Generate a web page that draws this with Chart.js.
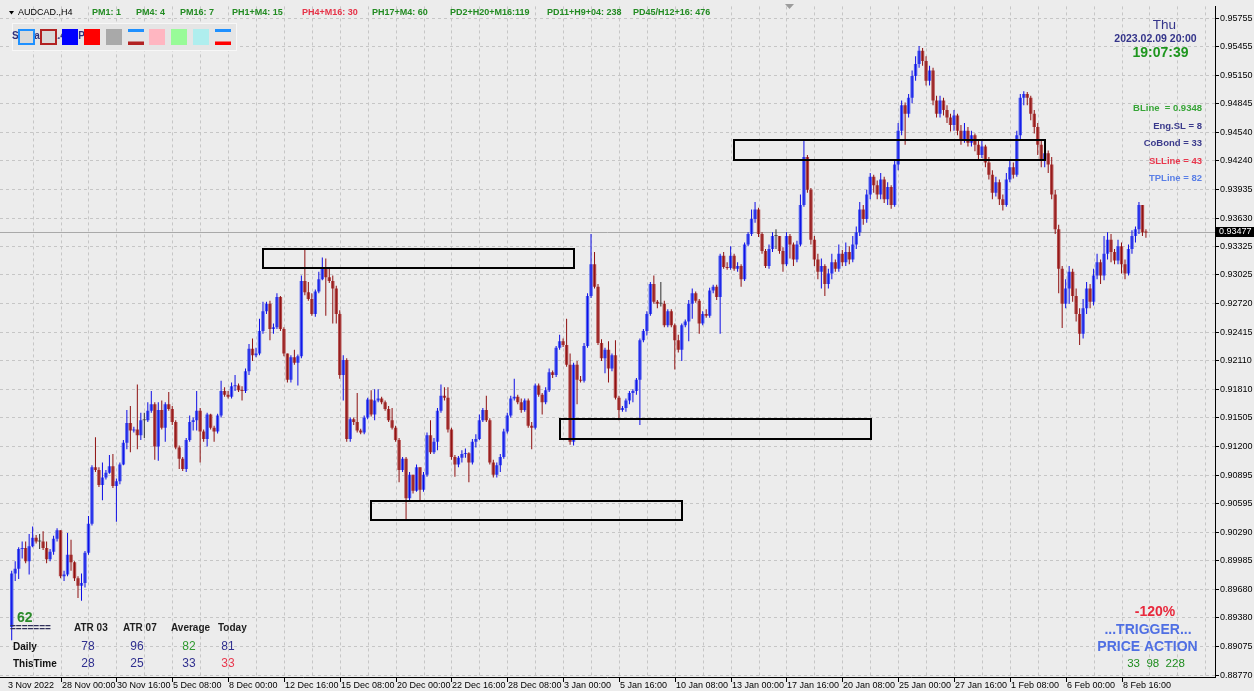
<!DOCTYPE html>
<html><head><meta charset="utf-8">
<script src="https://cdn.jsdelivr.net/npm/chart.js@4.4.1/dist/chart.umd.min.js"></script>
<style>html,body{margin:0;padding:0;background:#ececec;overflow:hidden}canvas{display:block}</style>
</head><body>
<canvas id="c" width="1254" height="691"></canvas>
<script>
// ---- data (AUDCAD H4) ----
const firstOpen = 0.8928;
const close = [
0.8985,0.8990,0.9011,0.9012,0.8998,0.9014,0.9023,0.9019,0.9019,0.9012,
0.9000,0.9008,0.9022,0.9031,0.8982,0.8984,0.9005,0.8997,0.8980,0.8972,
0.8975,0.9007,0.9038,0.9098,0.9095,0.9079,0.9087,0.9092,0.9099,0.9078,
0.9083,0.9101,0.9124,0.9145,0.9137,0.9138,0.9132,0.9148,0.9148,0.9158,
0.9165,0.9120,0.9159,0.9140,0.9165,0.9160,0.9146,0.9119,0.9107,0.9096,
0.9127,0.9146,0.9148,0.9158,0.9136,0.9128,0.9154,0.9140,0.9136,0.9153,
0.9179,0.9175,0.9173,0.9184,0.9185,0.9180,0.9179,0.9200,0.9224,0.9217,
0.9219,0.9243,0.9264,0.9272,0.9245,0.9247,0.9279,0.9245,0.9219,0.9191,
0.9215,0.9209,0.9216,0.9296,0.9284,0.9277,0.9261,0.9285,0.9298,0.9311,
0.9300,0.9296,0.9288,0.9261,0.9196,0.9212,0.9128,0.9149,0.9146,0.9137,
0.9135,0.9151,0.9170,0.9154,0.9169,0.9171,0.9167,0.9160,0.9148,0.9140,
0.9127,0.9095,0.9107,0.9065,0.9090,0.9073,0.9098,0.9074,0.9090,0.9132,
0.9114,0.9125,0.9158,0.9174,0.9172,0.9138,0.9109,0.9101,0.9108,0.9112,
0.9113,0.9103,0.9125,0.9128,0.9148,0.9159,0.9148,0.9103,0.9090,0.9100,
0.9109,0.9136,0.9153,0.9171,0.9173,0.9167,0.9159,0.9169,0.9142,0.9140,
0.9185,0.9175,0.9167,0.9180,0.9199,0.9196,0.9225,0.9232,0.9228,0.9207,
0.9125,0.9207,0.9191,0.9190,0.9227,0.9280,0.9314,0.9290,0.9230,0.9214,
0.9223,0.9203,0.9217,0.9172,0.9159,0.9161,0.9169,0.9177,0.9179,0.9191,
0.9233,0.9243,0.9261,0.9293,0.9274,0.9272,0.9272,0.9249,0.9264,0.9249,
0.9233,0.9223,0.9249,0.9253,0.9272,0.9283,0.9275,0.9251,0.9261,0.9259,
0.9286,0.9290,0.9279,0.9323,0.9311,0.9310,0.9323,0.9309,0.9312,0.9298,
0.9335,0.9346,0.9362,0.9372,0.9346,0.9328,0.9312,0.9330,0.9344,0.9344,
0.9328,0.9314,0.9344,0.9335,0.9319,0.9335,0.9377,0.9428,0.9393,0.9340,
0.9319,0.9306,0.9312,0.9293,0.9304,0.9316,0.9309,0.9325,0.9316,0.9327,
0.9319,0.9335,0.9348,0.9372,0.9362,0.9388,0.9407,0.9398,0.9388,0.9404,
0.9383,0.9396,0.9377,0.9420,0.9456,0.9483,0.9474,0.9491,0.9514,0.9527,
0.9541,0.9530,0.9509,0.9520,0.9488,0.9474,0.9488,0.9478,0.9470,0.9462,
0.9472,0.9456,0.9446,0.9456,0.9443,0.9451,0.9441,0.9430,0.9439,0.9422,
0.9409,0.9390,0.9401,0.9383,0.9377,0.9404,0.9417,0.9409,0.9451,0.9491,
0.9495,0.9491,0.9474,0.9460,0.9441,0.9425,0.9432,0.9420,0.9388,0.9351,
0.9309,0.9272,0.9288,0.9306,0.9280,0.9261,0.9240,0.9267,0.9288,0.9274,
0.9302,0.9316,0.9302,0.9325,0.9340,0.9327,0.9318,0.9333,0.9314,0.9304,
0.9330,0.9344,0.9351,0.9377,0.9348,0.93477];
const high = [
0.8988,0.8998,0.9013,0.9019,0.9019,0.9027,0.9035,0.9026,0.9027,0.9030,
0.9019,0.9011,0.9025,0.9033,0.9031,0.8988,0.9028,0.9021,0.8998,0.8982,
0.8985,0.9009,0.9046,0.9100,0.9130,0.9098,0.9103,0.9095,0.9111,0.9112,
0.9086,0.9103,0.9127,0.9159,0.9163,0.9141,0.9186,0.9156,0.9156,0.9167,
0.9179,0.9167,0.9167,0.9169,0.9167,0.9178,0.9163,0.9148,0.9121,0.9109,
0.9129,0.9153,0.9151,0.9179,0.9161,0.9138,0.9156,0.9155,0.9142,0.9155,
0.9190,0.9183,0.9179,0.9188,0.9196,0.9187,0.9184,0.9203,0.9229,0.9235,
0.9225,0.9256,0.9274,0.9274,0.9275,0.9251,0.9283,0.9280,0.9247,0.9209,
0.9217,0.9223,0.9218,0.9302,0.9330,0.9295,0.9283,0.9287,0.9306,0.9321,
0.9320,0.9311,0.9302,0.9291,0.9265,0.9217,0.9214,0.9151,0.9151,0.9177,
0.9139,0.9153,0.9172,0.9180,0.9181,0.9181,0.9173,0.9169,0.9163,0.9161,
0.9142,0.9129,0.9109,0.9109,0.9093,0.9080,0.9101,0.9096,0.9093,0.9135,
0.9148,0.9129,0.9161,0.9186,0.9183,0.9183,0.9140,0.9111,0.9110,0.9116,
0.9118,0.9114,0.9128,0.9133,0.9154,0.9161,0.9174,0.9150,0.9106,0.9103,
0.9112,0.9139,0.9156,0.9174,0.9192,0.9175,0.9171,0.9171,0.9171,0.9146,
0.9187,0.9187,0.9177,0.9183,0.9203,0.9201,0.9227,0.9239,0.9235,0.9256,
0.9219,0.9209,0.9211,0.9195,0.9230,0.9283,0.9346,0.9327,0.9293,0.9234,
0.9225,0.9232,0.9219,0.9233,0.9174,0.9163,0.9171,0.9179,0.9181,0.9193,
0.9235,0.9245,0.9264,0.9295,0.9302,0.9276,0.9295,0.9275,0.9266,0.9266,
0.9251,0.9239,0.9251,0.9255,0.9276,0.9288,0.9285,0.9277,0.9264,0.9266,
0.9289,0.9292,0.9292,0.9325,0.9327,0.9316,0.9333,0.9325,0.9316,0.9314,
0.9337,0.9348,0.9372,0.9380,0.9374,0.9348,0.9330,0.9335,0.9348,0.9351,
0.9343,0.9332,0.9348,0.9346,0.9337,0.9339,0.9388,0.9446,0.9430,0.9395,
0.9344,0.9325,0.9320,0.9314,0.9309,0.9325,0.9319,0.9335,0.9329,0.9337,
0.9333,0.9344,0.9354,0.9380,0.9377,0.9393,0.9411,0.9409,0.9403,0.9411,
0.9407,0.9401,0.9398,0.9425,0.9464,0.9488,0.9486,0.9495,0.9520,0.9535,
0.9546,0.9544,0.9535,0.9525,0.9523,0.9493,0.9493,0.9491,0.9483,0.9474,
0.9478,0.9474,0.9462,0.9464,0.9460,0.9456,0.9453,0.9445,0.9446,0.9441,
0.9428,0.9414,0.9407,0.9404,0.9388,0.9411,0.9425,0.9422,0.9456,0.9495,
0.9498,0.9497,0.9493,0.9478,0.9464,0.9446,0.9439,0.9435,0.9428,0.9393,
0.9356,0.9312,0.9298,0.9312,0.9309,0.9288,0.9267,0.9277,0.9295,0.9293,
0.9309,0.9325,0.9319,0.9344,0.9348,0.9346,0.9330,0.9340,0.9337,0.9319,
0.9335,0.9350,0.9354,0.9380,0.9377,0.9351];
const low = [
0.8914,0.8977,0.8979,0.9001,0.8996,0.8984,0.9013,0.9017,0.9011,0.9010,
0.8996,0.8998,0.9005,0.9019,0.8980,0.8977,0.8982,0.8988,0.8977,0.8959,
0.8956,0.8970,0.9005,0.9036,0.9093,0.9077,0.9063,0.9085,0.9091,0.9076,
0.9040,0.9080,0.9100,0.9117,0.9114,0.9135,0.9117,0.9127,0.9129,0.9146,
0.9156,0.9106,0.9105,0.9138,0.9125,0.9158,0.9143,0.9117,0.9096,0.9094,
0.9093,0.9125,0.9137,0.9137,0.9103,0.9125,0.9120,0.9138,0.9125,0.9134,
0.9151,0.9173,0.9171,0.9171,0.9179,0.9178,0.9169,0.9177,0.9196,0.9211,
0.9215,0.9217,0.9240,0.9261,0.9233,0.9240,0.9245,0.9243,0.9216,0.9188,
0.9188,0.9207,0.9185,0.9214,0.9281,0.9275,0.9259,0.9258,0.9283,0.9297,
0.9259,0.9294,0.9251,0.9251,0.9192,0.9169,0.9125,0.9125,0.9143,0.9135,
0.9133,0.9133,0.9149,0.9152,0.9148,0.9167,0.9165,0.9158,0.9146,0.9138,
0.9125,0.9082,0.9093,0.9041,0.9063,0.9070,0.9072,0.9063,0.9072,0.9088,
0.9112,0.9112,0.9116,0.9156,0.9169,0.9135,0.9106,0.9088,0.9098,0.9103,
0.9108,0.9082,0.9101,0.9119,0.9127,0.9146,0.9146,0.9101,0.9087,0.9087,
0.9093,0.9107,0.9134,0.9151,0.9169,0.9165,0.9156,0.9157,0.9140,0.9117,
0.9138,0.9173,0.9154,0.9165,0.9178,0.9193,0.9194,0.9223,0.9226,0.9205,
0.9122,0.9121,0.9165,0.9188,0.9188,0.9225,0.9278,0.9288,0.9228,0.9211,
0.9198,0.9188,0.9200,0.9170,0.9148,0.9157,0.9157,0.9165,0.9167,0.9175,
0.9143,0.9231,0.9238,0.9259,0.9272,0.9267,0.9269,0.9247,0.9247,0.9247,
0.9202,0.9220,0.9211,0.9247,0.9232,0.9256,0.9273,0.9240,0.9249,0.9257,
0.9257,0.9283,0.9276,0.9240,0.9309,0.9308,0.9308,0.9307,0.9306,0.9290,
0.9296,0.9333,0.9344,0.9358,0.9343,0.9325,0.9310,0.9309,0.9327,0.9330,
0.9325,0.9306,0.9312,0.9320,0.9312,0.9316,0.9333,0.9375,0.9390,0.9335,
0.9312,0.9298,0.9288,0.9280,0.9288,0.9298,0.9306,0.9306,0.9312,0.9312,
0.9314,0.9316,0.9330,0.9344,0.9356,0.9358,0.9383,0.9390,0.9383,0.9383,
0.9379,0.9377,0.9373,0.9375,0.9414,0.9451,0.9441,0.9470,0.9485,0.9509,
0.9523,0.9525,0.9504,0.9504,0.9483,0.9470,0.9470,0.9472,0.9464,0.9455,
0.9456,0.9451,0.9441,0.9443,0.9439,0.9439,0.9434,0.9425,0.9427,0.9417,
0.9404,0.9383,0.9386,0.9377,0.9371,0.9375,0.9401,0.9405,0.9407,0.9446,
0.9483,0.9483,0.9467,0.9453,0.9430,0.9417,0.9417,0.9411,0.9383,0.9346,
0.9283,0.9246,0.9267,0.9272,0.9274,0.9253,0.9228,0.9235,0.9261,0.9267,
0.9270,0.9298,0.9293,0.9297,0.9319,0.9316,0.9314,0.9314,0.9304,0.9298,
0.9302,0.9325,0.9337,0.9346,0.9344,0.9342];

const xTickIndex = [0,14,30,46,62,78,94,110,126,142,158,174,190,206,222,238,254,270,286,302,318];
const xTickText = ["3 Nov 2022","28 Nov 00:00","30 Nov 16:00","5 Dec 08:00","8 Dec 00:00","12 Dec 16:00","15 Dec 08:00","20 Dec 00:00","22 Dec 16:00","28 Dec 08:00","3 Jan 00:00","5 Jan 16:00","10 Jan 08:00","13 Jan 00:00","17 Jan 16:00","20 Jan 08:00","25 Jan 00:00","27 Jan 16:00","1 Feb 08:00","6 Feb 00:00","8 Feb 16:00"];
const yTickLabels = ["0.95755","0.95455","0.95150","0.94845","0.94540","0.94240","0.93935","0.93630","0.93325","0.93025","0.92720","0.92415","0.92110","0.91810","0.91505","0.91200","0.90895","0.90595","0.90290","0.89985","0.89680","0.89380","0.89075","0.88770"];
const lastPrice = 0.93477;
// zones: start bar, end bar, upper price, lower price
const zoneStart = [71.9, 102.95, 157.1, 206.96];
const zoneEnd   = [160.9, 192.0, 246.2, 296.1];
const zoneTop   = [0.93300, 0.90621, 0.91491, 0.94459];
const zoneBottom= [0.93097, 0.90417, 0.91277, 0.94248];

// ---- build ----
const open = [firstOpen].concat(close.slice(0, -1));
const idx = close.map((_, i) => i);
const dir = idx.map(i => close[i] > open[i] ? 1 : (close[i] < open[i] ? -1 : 0));
const bodyData = idx.map(i => ({x: i, y: [open[i], close[i]]}));
const wickData = idx.map(i => ({x: i, y: [Math.min(low[i], open[i], close[i]), Math.max(high[i], open[i], close[i])]}));
const bodyColors = dir.map(d => d > 0 ? '#5060ee' : (d < 0 ? '#b24a4a' : '#707070'));
const wickColors = dir.map(d => d > 0 ? '#0c0ce6' : (d < 0 ? '#8e1010' : '#303030'));

const FONT = "'Liberation Sans', Arial, sans-serif";
function txt(ctx, s, x, y, font, color, align) {
  ctx.font = font; ctx.fillStyle = color; ctx.textAlign = align || 'left'; ctx.textBaseline = 'middle';
  ctx.fillText(s, x, y);
}

const decor = {
  id: 'decor',
  beforeDraw(chart) {
    const c = chart.ctx; c.save(); c.fillStyle = '#ececec'; c.fillRect(0, 0, chart.width, chart.height); c.restore();
  },
  beforeDatasetsDraw(chart) {
    const {ctx, chartArea: a, scales: {x, y}} = chart;
    ctx.save();
    ctx.strokeStyle = '#c6c6c6'; ctx.lineWidth = 1; ctx.setLineDash([3, 3]);
    for (let i = 6; ; i += 8) {
      const px = Math.round(x.getPixelForValue(i)) + 0.5;
      if (px > a.right - 2) break;
      ctx.beginPath(); ctx.moveTo(px, a.top); ctx.lineTo(px, a.bottom); ctx.stroke();
    }
    ctx.setLineDash([]);
    ctx.strokeStyle = '#a9a9a9';
    const py = Math.round(y.getPixelForValue(lastPrice)) + 0.5;
    ctx.beginPath(); ctx.moveTo(a.left, py); ctx.lineTo(a.right, py); ctx.stroke();
    ctx.restore();
  },
  afterDraw(chart) {
    const {ctx, chartArea: a, scales: {x, y}} = chart;
    ctx.save();
    // zones
    ctx.strokeStyle = '#000'; ctx.lineWidth = 2;
    for (let k = 0; k < zoneStart.length; k++) {
      const x0 = x.getPixelForValue(zoneStart[k]), x1 = x.getPixelForValue(zoneEnd[k]);
      const y0 = y.getPixelForValue(zoneTop[k]), y1 = y.getPixelForValue(zoneBottom[k]);
      ctx.strokeRect(Math.round(x0), Math.round(y0), Math.round(x1 - x0), Math.round(y1 - y0));
    }
    // x axis line, ticks, labels
    ctx.lineWidth = 1; ctx.strokeStyle = '#000';
    ctx.beginPath(); ctx.moveTo(0, a.bottom + 0.5); ctx.lineTo(a.right, a.bottom + 0.5); ctx.stroke();
    for (let k = 0; k < xTickIndex.length; k++) {
      const px = Math.round(x.getPixelForValue(xTickIndex[k])) + 0.5;
      if (k > 0) { ctx.beginPath(); ctx.moveTo(px, a.bottom); ctx.lineTo(px, a.bottom + 5); ctx.stroke(); }
      txt(ctx, xTickText[k], k === 0 ? 8 : px + 0.5, 686, '9px ' + FONT, '#000');
    }
    // price tag
    const py = Math.round(y.getPixelForValue(lastPrice));
    ctx.fillStyle = '#000'; ctx.fillRect(a.right + 1, py - 5, 38, 10);
    txt(ctx, lastPrice.toFixed(5), a.right + 4, py, '9px ' + FONT, '#fff');
    // chart shift marker
    ctx.fillStyle = '#9c9c9c'; ctx.beginPath(); ctx.moveTo(785, 4); ctx.lineTo(794, 4); ctx.lineTo(789.5, 9); ctx.closePath(); ctx.fill();
    // header
    ctx.fillStyle = '#000'; ctx.beginPath(); ctx.moveTo(9, 11); ctx.lineTo(14, 11); ctx.lineTo(11.5, 14.5); ctx.closePath(); ctx.fill();
    txt(ctx, 'AUDCAD.,H4', 18, 13, '9px ' + FONT, '#000');
    const G = '#228b22', R = '#e63348', HB = 'bold 9px ' + FONT;
    [['PM1: 1', 92, G], ['PM4: 4', 136, G], ['PM16: 7', 180, G], ['PH1+M4: 15', 232, G], ['PH4+M16: 30', 302, R],
     ['PH17+M4: 60', 372, G], ['PD2+H20+M16:119', 450, G], ['PD11+H9+04: 238', 547, G], ['PD45/H12+16: 476', 633, G]]
      .forEach(t => txt(ctx, t[0], t[1], 13, HB, t[2]));
    // palette
    ctx.fillStyle = '#e5e5e5'; ctx.fillRect(12.5, 23, 224, 27);
    ctx.strokeStyle = '#f7f7f7'; ctx.lineWidth = 1; ctx.strokeRect(12.5, 23.5, 224, 27);
    txt(ctx, 'Spread: 1.4 PIP', 12, 36, 'bold 10px ' + FONT, '#30307a');
    ctx.lineWidth = 2;
    ctx.fillStyle = '#d9d9d9'; ctx.fillRect(19, 30, 15, 14); ctx.strokeStyle = '#1e90ff'; ctx.strokeRect(19, 30, 15, 14);
    ctx.fillStyle = '#d9d9d9'; ctx.fillRect(41, 30, 15, 14); ctx.strokeStyle = '#b22222'; ctx.strokeRect(41, 30, 15, 14);
    ctx.fillStyle = '#0000ff'; ctx.fillRect(62, 29, 16, 16);
    ctx.fillStyle = '#ff0000'; ctx.fillRect(84, 29, 16, 16);
    ctx.fillStyle = '#a9a9a9'; ctx.fillRect(106, 29, 16, 16);
    ctx.fillStyle = '#1e90ff'; ctx.fillRect(128, 29, 16, 3); ctx.fillStyle = '#b22222'; ctx.fillRect(128, 41.5, 16, 3.5);
    ctx.fillStyle = '#ffb6c1'; ctx.fillRect(149, 29, 16, 16);
    ctx.fillStyle = '#98fb98'; ctx.fillRect(171, 29, 16, 16);
    ctx.fillStyle = '#afeeee'; ctx.fillRect(193, 29, 16, 16);
    ctx.fillStyle = '#1e90ff'; ctx.fillRect(215, 29, 16, 3); ctx.fillStyle = '#ff0000'; ctx.fillRect(215, 41.5, 16, 3.5);
    // right info
    const NV = '#34348a';
    txt(ctx, 'Thu', 1164.5, 25, '13.5px ' + FONT, NV, 'center');
    txt(ctx, '2023.02.09 20:00', 1155.5, 39, 'bold 10.5px ' + FONT, NV, 'center');
    txt(ctx, '19:07:39', 1160.5, 53, 'bold 14px ' + FONT, '#1e961e', 'center');
    const RB = 'bold 9.5px ' + FONT;
    txt(ctx, 'BLine  = 0.9348', 1202, 108.5, RB, '#37a537', 'right');
    txt(ctx, 'Eng.SL = 8', 1202, 126, RB, '#3a3a8c', 'right');
    txt(ctx, 'CoBond = 33', 1202, 143.5, RB, '#3a3a8c', 'right');
    txt(ctx, 'SLLine = 43', 1202, 161, RB, '#e8374d', 'right');
    txt(ctx, 'TPLine = 82', 1202, 178, RB, '#5a7fe6', 'right');
    // bottom-left table
    txt(ctx, '62', 17, 618, 'bold 14px ' + FONT, '#2a8a2a');
    txt(ctx, '=======', 10, 628, 'bold 10px ' + FONT, '#30305a');
    const TB = 'bold 10px ' + FONT;
    txt(ctx, 'ATR 03', 74, 628, TB, '#1e1e1e'); txt(ctx, 'ATR 07', 123, 628, TB, '#1e1e1e');
    txt(ctx, 'Average', 171, 628, TB, '#1e1e1e'); txt(ctx, 'Today', 218, 628, TB, '#1e1e1e');
    txt(ctx, 'Daily', 13, 647, TB, '#111'); txt(ctx, 'ThisTime', 13, 664, TB, '#111');
    const VF = '12px ' + FONT, VN = '#2f2f8f';
    txt(ctx, '78', 88, 647, VF, VN, 'center'); txt(ctx, '96', 137, 647, VF, VN, 'center');
    txt(ctx, '82', 189, 647, VF, '#2e9a2e', 'center'); txt(ctx, '81', 228, 647, VF, VN, 'center');
    txt(ctx, '28', 88, 664, VF, VN, 'center'); txt(ctx, '25', 137, 664, VF, VN, 'center');
    txt(ctx, '33', 189, 664, VF, VN, 'center'); txt(ctx, '33', 228, 664, VF, '#e8374d', 'center');
    // bottom-right
    txt(ctx, '-120%', 1155, 612.5, 'bold 14px ' + FONT, '#e8283c', 'center');
    txt(ctx, '...TRIGGER...', 1148, 630.5, 'bold 14px ' + FONT, '#4f6fe3', 'center');
    txt(ctx, 'PRICE ACTION', 1147.5, 647, 'bold 14px ' + FONT, '#4f6fe3', 'center');
    txt(ctx, '33  98  228', 1156, 664, '11.5px ' + FONT, '#1e8c1e', 'center');
    ctx.restore();
  }
};

new Chart(document.getElementById('c').getContext('2d'), {
  type: 'bar',
  data: {
    datasets: [
      {label: 'wick', data: wickData, backgroundColor: wickColors, barThickness: 1, grouped: false, order: 0, borderWidth: 0, inflateAmount: 0},
      {label: 'body', data: bodyData, backgroundColor: bodyColors, barThickness: 3.4, grouped: false, order: 1, borderWidth: 0, minBarLength: 1, inflateAmount: 0}
    ]
  },
  options: {
    responsive: false, animation: false, devicePixelRatio: 1,
    layout: {padding: {left: 0, right: 0, top: 0, bottom: 14}},
    plugins: {legend: {display: false}, tooltip: {enabled: false}},
    scales: {
      x: {type: 'linear', display: false, min: -3.352, max: 344.79, offset: false},
      y: {
        position: 'right', min: 0.887489, max: 0.958814,
        afterBuildTicks: s => { s.ticks = yTickLabels.map(t => ({value: parseFloat(t)})); },
        afterFit: s => { s.width = 39; },
        ticks: {autoSkip: false, padding: 1, color: '#000', font: {family: "'Liberation Sans', Arial, sans-serif", size: 9},
                callback: (v, i) => yTickLabels[i]},
        grid: {color: '#c6c6c6', lineWidth: 1, tickColor: '#000', tickLength: 4, tickBorderDash: [], drawTicks: true},
        border: {display: true, color: '#000', width: 1, dash: [3, 3]}
      }
    }
  },
  plugins: [decor]
});
</script>
</body></html>
